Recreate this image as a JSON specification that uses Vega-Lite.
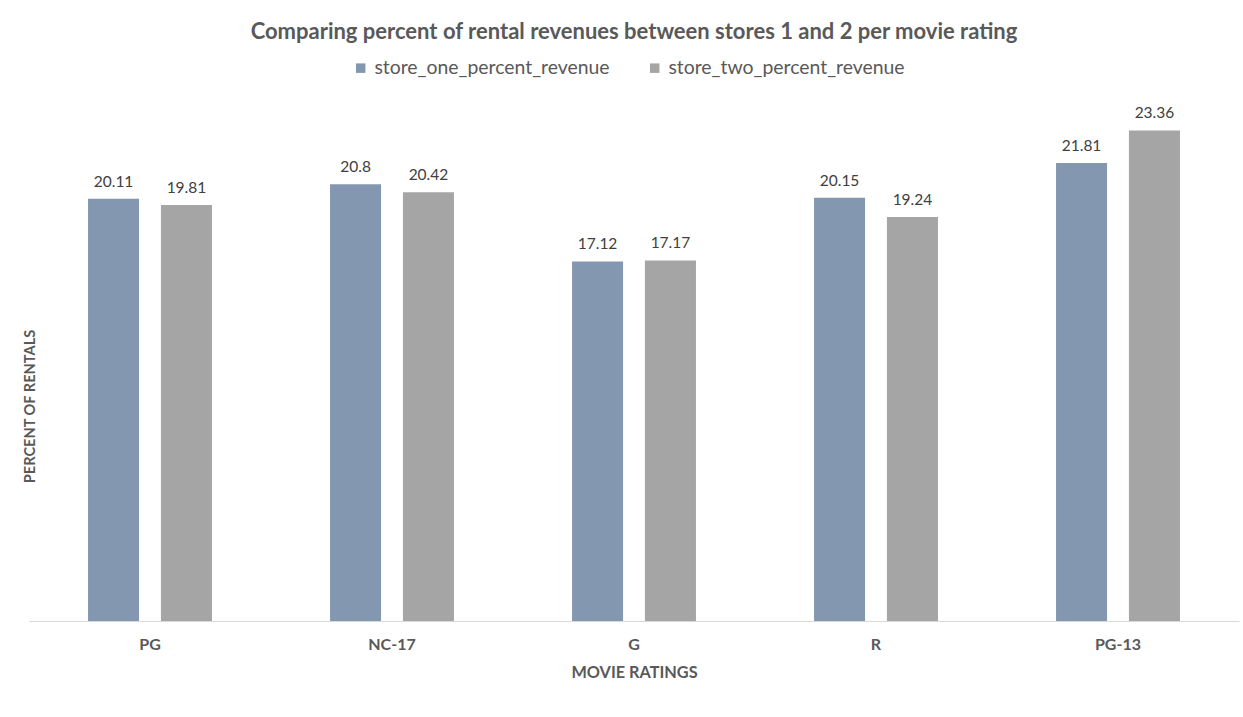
{
  "$schema": "https://vega.github.io/schema/vega-lite/v6.json",
  "width": 1210,
  "height": 525,
  "autosize": {"type": "none"},
  "padding": {"left": 29, "top": 96, "right": 4, "bottom": 96},
  "background": "white",
  "config": {
    "font": "Lato",
    "view": {"stroke": null},
    "axis": {"grid": false}
  },
  "title": {
    "text": "Comparing percent of rental revenues between stores 1 and 2 per movie rating",
    "anchor": "middle",
    "font": "Lato",
    "fontSize": 22,
    "fontWeight": "bold",
    "color": "#595959",
    "offset": 14
  },
  "data": {
    "values": [
      {"rating": "PG", "store": "store_one_percent_revenue", "value": 20.11},
      {"rating": "PG", "store": "store_two_percent_revenue", "value": 19.81},
      {"rating": "NC-17", "store": "store_one_percent_revenue", "value": 20.8},
      {"rating": "NC-17", "store": "store_two_percent_revenue", "value": 20.42},
      {"rating": "G", "store": "store_one_percent_revenue", "value": 17.12},
      {"rating": "G", "store": "store_two_percent_revenue", "value": 17.17},
      {"rating": "R", "store": "store_one_percent_revenue", "value": 20.15},
      {"rating": "R", "store": "store_two_percent_revenue", "value": 19.24},
      {"rating": "PG-13", "store": "store_one_percent_revenue", "value": 21.81},
      {"rating": "PG-13", "store": "store_two_percent_revenue", "value": 23.36}
    ]
  },
  "encoding": {
    "x": {
      "field": "rating",
      "type": "nominal",
      "sort": ["PG", "NC-17", "G", "R", "PG-13"],
      "scale": {"paddingInner": 0, "paddingOuter": 0},
      "axis": {
        "title": "MOVIE RATINGS",
        "labelAngle": 0,
        "labelFont": "Lato",
        "labelFontSize": 16,
        "labelFontWeight": "bold",
        "labelColor": "#595959",
        "labelPadding": 15,
        "ticks": false,
        "domainColor": "#D9D9D9",
        "domainWidth": 1,
        "titleFont": "Lato",
        "titleFontSize": 16.3,
        "titleFontWeight": "bold",
        "titleColor": "#595959",
        "titlePadding": 12
      }
    },
    "xOffset": {
      "field": "store",
      "type": "nominal",
      "scale": {"paddingInner": 0.3, "paddingOuter": 0.81}
    },
    "y": {
      "field": "value",
      "type": "quantitative",
      "scale": {"domain": [0, 25]},
      "axis": {
        "title": "PERCENT OF RENTALS",
        "labels": false,
        "ticks": false,
        "domain": false,
        "grid": false,
        "titleFont": "Lato",
        "titleFontSize": 14.6,
        "titleFontWeight": "bold",
        "titleColor": "#595959",
        "titleAngle": -90,
        "titleAlign": "center",
        "titleBaseline": "middle",
        "titleX": 1,
        "titleY": 310
      }
    }
  },
  "layer": [
    {
      "mark": {"type": "bar"},
      "encoding": {
        "color": {
          "field": "store",
          "type": "nominal",
          "scale": {"range": ["#8497B0", "#A5A5A5"]},
          "legend": {
            "title": null,
            "orient": "none",
            "direction": "horizontal",
            "legendX": 322,
            "legendY": -38,
            "padding": 0,
            "symbolType": "square",
            "symbolSize": 90,
            "symbolOffset": 0,
            "labelOffset": 4,
            "labelLimit": 400,
            "labelFont": "Lato",
            "labelFontSize": 19.4,
            "labelColor": "#595959",
            "columnPadding": 35
          }
        }
      }
    },
    {
      "mark": {"type": "text", "baseline": "alphabetic", "dy": -12, "font": "Lato", "fontSize": 15.5, "color": "#404040"},
      "encoding": {
        "text": {"field": "value", "type": "quantitative"}
      }
    }
  ]
}
